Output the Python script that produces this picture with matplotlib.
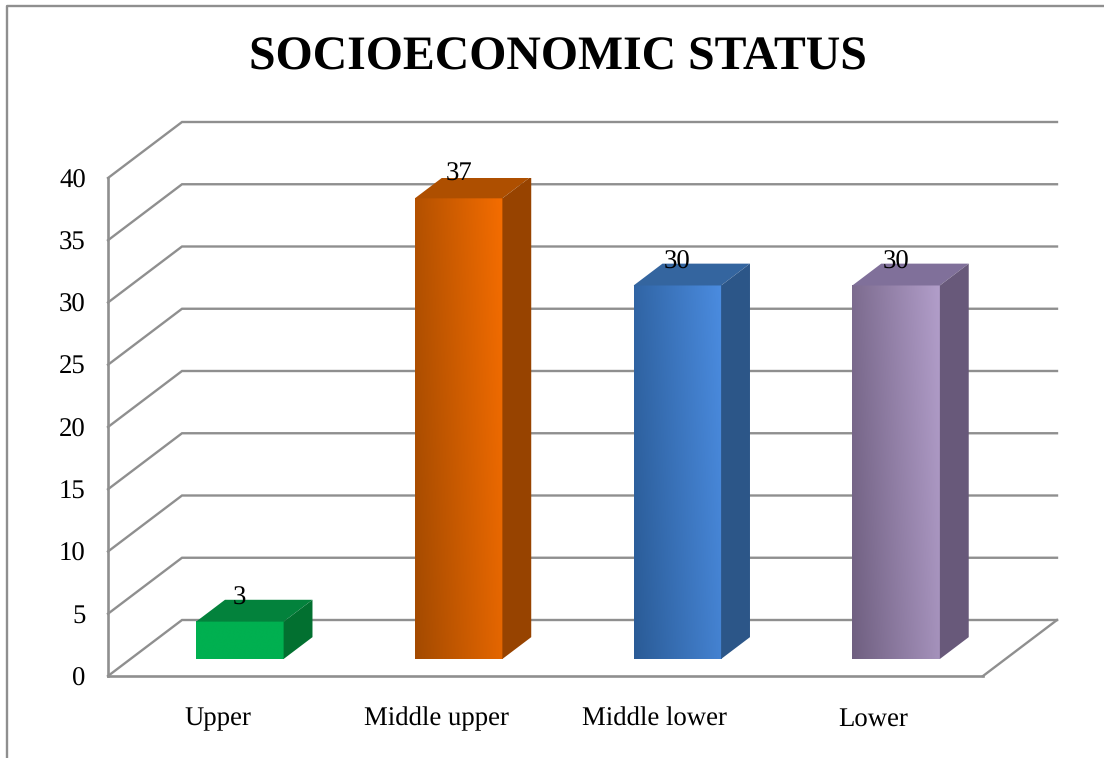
import numpy as np
import matplotlib
matplotlib.use('Agg')
import matplotlib.pyplot as plt
from matplotlib.lines import Line2D
from matplotlib.colors import LinearSegmentedColormap

categories = ['Upper', 'Middle upper', 'Middle lower', 'Lower']
values = [3, 37, 30, 30]
y_ticks = [0, 5, 10, 15, 20, 25, 30, 35, 40]

# front face colours (left to right), then top and side faces
front_left = ['#00b050', '#a34a00', '#2a5b96', '#6f5f80']
front_right = ['#00b050', '#f56d00', '#4b8ce0', '#b29eca']
top_colors = ['#03823c', '#ae4f00', '#34659f', '#80709a']
side_colors = ['#027030', '#974300', '#2c5688', '#68597a']

W, H = 1104, 758
plt.rcParams['font.family'] = ['Liberation Serif', 'DejaVu Serif']
plt.rcParams['text.hinting'] = 'no_hinting'
GRID = '#8f8f8f'

fig = plt.figure(figsize=(W / 100, H / 100), dpi=100)
ax = fig.add_axes([108 / W, 1 - 676 / H, 875 / W, 498 / H])
ax.patch.set_alpha(0)

# one unit of depth on the floor, in data units
DX = 74 / 218.75
DY = 56 / 12.45
XMIN, XMAX = -0.5, 3.5
YMAX = 40
BAR_HALF = 0.2
BAR_FRONT = 0.304
BAR_DEPTH = 0.39


def proj(x, v, d):
    return x + d * DX, v + d * DY


# walls and floor
for v in y_ticks:
    p0 = proj(XMIN, v, 0)
    p1 = proj(XMIN, v, 1)
    p2 = proj(XMAX, v, 1)
    ax.plot([p0[0], p1[0], p2[0]], [p0[1], p1[1], p2[1]], color=GRID, lw=1.7,
            clip_on=False, zorder=1, solid_joinstyle='miter')
ax.plot([XMIN, XMIN], [0, YMAX], color=GRID, lw=1.9, clip_on=False, zorder=1)
ax.plot([XMIN, XMAX], [0, 0], color=GRID, lw=1.9, clip_on=False, zorder=1)
p1 = proj(XMAX, 0, 1)
ax.plot([XMAX, p1[0]], [0, p1[1]], color=GRID, lw=1.7, clip_on=False, zorder=1)

# bars
for i, val in enumerate(values):
    x0, b0 = proj(i - BAR_HALF, 0, BAR_FRONT)
    x1, t0 = proj(i + BAR_HALF, val, BAR_FRONT)
    ddx, ddy = BAR_DEPTH * DX, BAR_DEPTH * DY
    cmap = LinearSegmentedColormap.from_list('f', [front_left[i], front_right[i]])
    # shading runs slightly diagonal, brightest in the upper right corner
    gx, gy = np.meshgrid(np.linspace(0, 1, 128), np.linspace(1, 0, 128))
    grad = 0.8 * gx + 0.2 * gy
    ax.imshow(grad, extent=[x0, x1, b0, t0], cmap=cmap, aspect='auto', zorder=3,
              vmin=0, vmax=1, interpolation='bilinear')
    ax.fill([x0, x1, x1 + ddx, x0 + ddx], [t0, t0, t0 + ddy, t0 + ddy],
            color=top_colors[i], lw=0, zorder=3)
    ax.fill([x1, x1 + ddx, x1 + ddx, x1], [b0, b0 + ddy, t0 + ddy, t0],
            color=side_colors[i], lw=0, zorder=3)
    ax.annotate(str(val), ((x0 + x1) / 2, t0), xytext=(0, 17), textcoords='offset points',
                ha='center', va='center', fontsize=19.3, color='black', zorder=5)

ax.set_xlim(XMIN, XMAX)
ax.set_ylim(0, YMAX)
ax.set_xticks(range(len(categories)))
ax.set_xticklabels(categories)
ax.set_yticks(y_ticks)
ax.tick_params(axis='both', length=0, labelsize=19.3, labelcolor='black')
ax.tick_params(axis='y', pad=16)
ax.tick_params(axis='x', pad=22)
for s in ax.spines.values():
    s.set_visible(False)

fig.text(558 / W, 1 - 58 / H, 'SOCIOECONOMIC STATUS', ha='center', va='center',
         fontsize=34.4, fontweight='bold', color='black')

# page border of the pasted chart
fig.add_artist(Line2D([7 / W, 7 / W, 1], [0, 1 - 6 / H, 1 - 6 / H], color='#8f8f8f', lw=1.7))

fig.savefig('out.png', dpi=100)
